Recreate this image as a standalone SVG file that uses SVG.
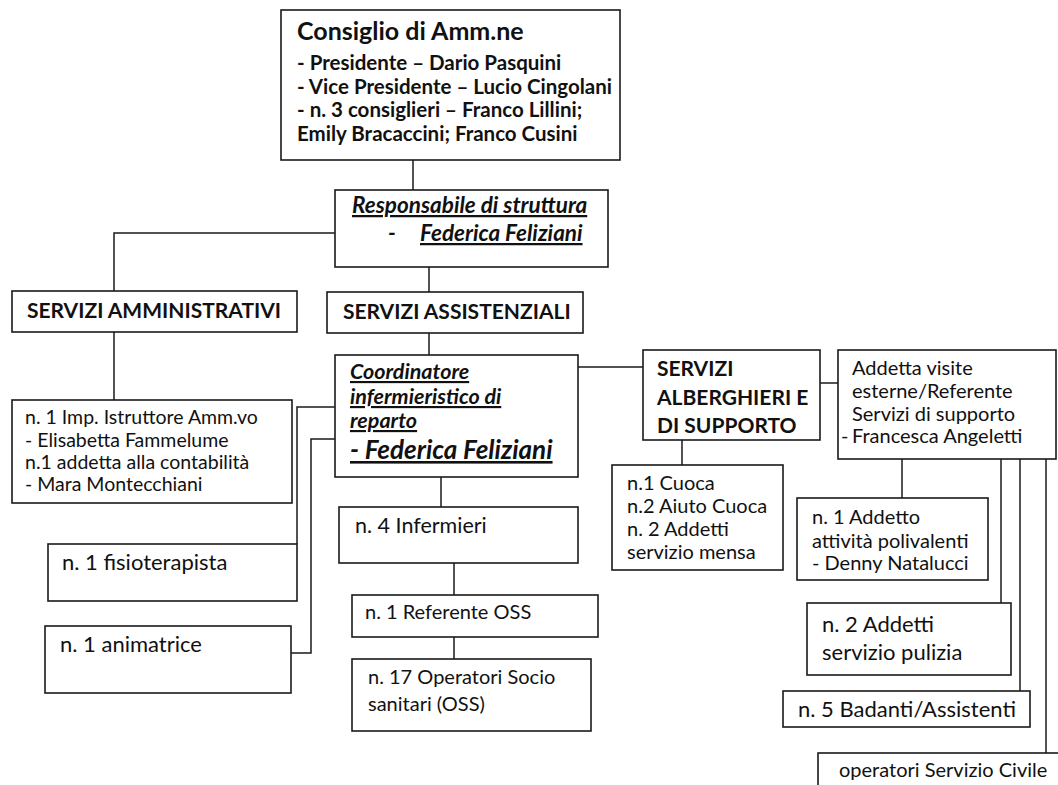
<svg xmlns="http://www.w3.org/2000/svg" width="1058" height="785" viewBox="0 0 1058 785">
<style>
.box{fill:#fff;stroke:#1a1a1a;stroke-width:1.6}
.ln{fill:none;stroke:#1a1a1a;stroke-width:1.5}
text{font-family:Lato,"Liberation Sans",sans-serif;fill:#111}
.r{font-size:20px}
.rl{font-size:22px}
.b{font-weight:bold}
.h{font-size:21px;font-weight:bold}
.bi{font-weight:bold;font-style:italic;text-decoration:underline}
</style>
<rect width="1058" height="785" fill="#fff"/>
<g id="connectors">
<path class="ln" d="M413,160V190"/>
<path class="ln" d="M335,233H114V291"/>
<path class="ln" d="M429,267V292"/>
<path class="ln" d="M114,332V400"/>
<path class="ln" d="M429,333V355"/>
<path class="ln" d="M335,407H297V544"/>
<path class="ln" d="M335,439H311V653H291"/>
<path class="ln" d="M578,367H643"/>
<path class="ln" d="M441,477V507"/>
<path class="ln" d="M454,563V595"/>
<path class="ln" d="M454,637V659"/>
<path class="ln" d="M682,440V465"/>
<path class="ln" d="M820,383H838"/>
<path class="ln" d="M902,459V498"/>
<path class="ln" d="M1001,459V603"/>
<path class="ln" d="M1020,459V691"/>
<path class="ln" d="M1046,459V753"/>
</g>
<g id="consiglio">
<rect class="box" x="281" y="10" width="339" height="150"/>
<text x="297" y="40" class="b" font-size="25">Consiglio di Amm.ne</text>
<text x="297" y="70" class="b" font-size="20.5">- Presidente – Dario Pasquini</text>
<text x="297" y="94" class="b" font-size="20.5">- Vice Presidente – Lucio Cingolani</text>
<text x="297" y="117" class="b" font-size="20.5">- n. 3 consiglieri – Franco Lillini;</text>
<text x="297" y="141" class="b" font-size="20.5">Emily Bracaccini; Franco Cusini</text>
</g>
<g id="responsabile">
<rect class="box" x="335" y="190" width="273" height="77"/>
<text x="352" y="213" class="bi" font-size="22.5">Responsabile di struttura</text>
<text x="388" y="241" class="b" font-size="22.5" font-style="italic">-</text>
<text x="420" y="241" class="bi" font-size="22.5">Federica Feliziani</text>
</g>
<g id="servizi-amministrativi">
<rect class="box" x="12" y="291" width="285" height="41"/>
<text x="27" y="318" class="h">SERVIZI AMMINISTRATIVI</text>
</g>
<g id="servizi-assistenziali">
<rect class="box" x="327" y="292" width="256" height="41"/>
<text x="343" y="319" class="h">SERVIZI ASSISTENZIALI</text>
</g>
<g id="amministrativi-staff">
<rect class="box" x="12" y="400" width="280" height="103"/>
<text x="25" y="424" font-size="19.5">n. 1 Imp. Istruttore Amm.vo</text>
<text x="25" y="447" font-size="19.5">- Elisabetta Fammelume</text>
<text x="25" y="469" font-size="19.5">n.1 addetta alla contabilità</text>
<text x="25" y="491" font-size="19.5">- Mara Montecchiani</text>
</g>
<g id="fisioterapista">
<rect class="box" x="48" y="544" width="249" height="57"/>
<text x="62" y="570" class="rl">n. 1 fisioterapista</text>
</g>
<g id="animatrice">
<rect class="box" x="45" y="626" width="246" height="67"/>
<text x="60" y="652" class="rl">n. 1 animatrice</text>
</g>
<g id="coordinatore">
<rect class="box" x="335" y="355" width="243" height="122"/>
<text x="350" y="379" class="bi" font-size="21.5">Coordinatore</text>
<text x="350" y="404" class="bi" font-size="21.5">infermieristico di</text>
<text x="350" y="428" class="bi" font-size="21.5">reparto</text>
<text x="350" y="459" class="bi" font-size="26">- Federica Feliziani</text>
</g>
<g id="infermieri">
<rect class="box" x="339" y="507" width="239" height="56"/>
<text x="355" y="533" font-size="21.5">n. 4 Infermieri</text>
</g>
<g id="referente-oss">
<rect class="box" x="352" y="595" width="246" height="42"/>
<text x="365" y="619" class="r">n. 1 Referente OSS</text>
</g>
<g id="operatori-oss">
<rect class="box" x="352" y="659" width="239" height="72"/>
<text x="368" y="684" class="r">n. 17 Operatori Socio</text>
<text x="368" y="711" class="r">sanitari (OSS)</text>
</g>
<g id="servizi-alberghieri">
<rect class="box" x="643" y="350" width="177" height="90"/>
<text x="657" y="376" class="h" font-size="20.5">SERVIZI</text>
<text x="657" y="405" class="h" font-size="20.5">ALBERGHIERI E</text>
<text x="657" y="433" class="h" font-size="20.5">DI SUPPORTO</text>
</g>
<g id="cucina">
<rect class="box" x="612" y="465" width="171" height="105"/>
<text x="627" y="490" class="r">n.1 Cuoca</text>
<text x="627" y="513" class="r">n.2 Aiuto Cuoca</text>
<text x="627" y="536" class="r">n. 2 Addetti</text>
<text x="627" y="559" class="r">servizio mensa</text>
</g>
<g id="addetta-visite">
<rect class="box" x="838" y="350" width="218" height="109"/>
<text x="852" y="375" class="r">Addetta visite</text>
<text x="852" y="398" class="r">esterne/Referente</text>
<text x="852" y="421" class="r">Servizi di supporto</text>
<text x="841" y="443" class="r">-</text>
<text x="852" y="443" class="r">Francesca Angeletti</text>
</g>
<g id="attivita-polivalenti">
<rect class="box" x="797" y="498" width="191" height="82"/>
<text x="812" y="524" class="r" font-size="21">n. 1 Addetto</text>
<text x="812" y="548" class="r" font-size="21">attività polivalenti</text>
<text x="812" y="570" class="r" font-size="21">- Denny Natalucci</text>
</g>
<g id="pulizia">
<rect class="box" x="807" y="603" width="204" height="72"/>
<text x="822" y="632" class="rl">n.  2 Addetti</text>
<text x="822" y="660" class="rl">servizio pulizia</text>
</g>
<g id="badanti">
<rect class="box" x="783" y="691" width="247" height="36"/>
<text x="798" y="717" class="rl">n. 5 Badanti/Assistenti</text>
</g>
<g id="servizio-civile">
<rect class="box" x="818" y="753" width="245" height="40"/>
<text x="839" y="777" class="r" font-size="19.6">operatori Servizio Civile</text>
</g>
</svg>
